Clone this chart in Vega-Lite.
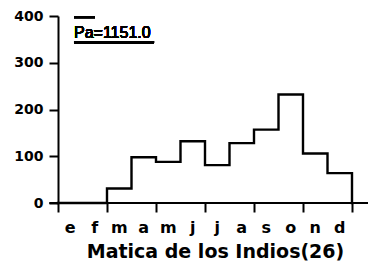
{
  "$schema": "https://vega.github.io/schema/vega-lite/v6.json",
  "width": 294,
  "height": 187,
  "autosize": "none",
  "padding": {"left": 58, "top": 16, "right": 17, "bottom": 59},
  "background": "white",
  "config": {"view": {"stroke": null}, "axis": {"grid": false, "domainColor": "black", "tickColor": "black", "labelColor": "black", "titleColor": "black"}},
  "data": {"values": [
    {"i": 0, "mes": "e", "pp": 0},
    {"i": 1, "mes": "f", "pp": 0},
    {"i": 2, "mes": "m", "pp": 31},
    {"i": 3, "mes": "a", "pp": 98},
    {"i": 4, "mes": "m", "pp": 88},
    {"i": 5, "mes": "j", "pp": 132},
    {"i": 6, "mes": "j", "pp": 81},
    {"i": 7, "mes": "a", "pp": 128},
    {"i": 8, "mes": "s", "pp": 157},
    {"i": 9, "mes": "o", "pp": 232},
    {"i": 10, "mes": "n", "pp": 106},
    {"i": 11, "mes": "d", "pp": 64},
    {"i": 12, "mes": "", "pp": 0}
  ]},
  "layer": [
    {
      "mark": {"type": "line", "interpolate": "step-after", "color": "black", "strokeWidth": 2.4, "strokeJoin": "miter", "strokeCap": "square"},
      "encoding": {
        "x": {"field": "i", "type": "quantitative",
          "scale": {"domain": [0, 12], "nice": false, "zero": false},
          "axis": {"values": [0,1,2,3,4,5,6,7,8,9,10,11,12], "domain": false, "tickSize": 9, "tickWidth": 2, "labels": false,
            "title": "Matica de los Indios(26)", "titleFont": "DejaVu Sans", "titleFontWeight": "bold", "titleFontSize": 19, "titlePadding": 29, "titleX": 157, "titleAlign": "center"}},
        "y": {"field": "pp", "type": "quantitative",
          "scale": {"domain": [0, 400], "nice": false},
          "axis": {"values": [0,100,200,300,400], "domainWidth": 2, "tickSize": 9, "tickWidth": 2,
            "labelFont": "DejaVu Sans", "labelFontWeight": "bold", "labelFontSize": 14, "labelPadding": 6, "title": null}}
      }
    },
    {
      "mark": {"type": "text", "align": "center", "baseline": "alphabetic", "font": "DejaVu Sans", "fontWeight": "bold", "fontSize": 16, "color": "black", "xOffset": 12.25, "dy": 30},
      "encoding": {"x": {"field": "i", "type": "quantitative"}, "y": {"datum": 0, "type": "quantitative"}, "text": {"field": "mes"}}
    },
    {
      "mark": {"type": "rule", "color": "black", "strokeWidth": 2},
      "encoding": {"x": {"datum": -0.33, "type": "quantitative"}, "x2": {"datum": 12.65}, "y": {"datum": 0, "type": "quantitative"}}
    },
    {
      "mark": {"type": "text", "align": "left", "baseline": "alphabetic", "font": "Liberation Sans", "fontSize": 16, "color": "black"},
      "encoding": {"x": {"datum": 0.653, "type": "quantitative"}, "y": {"datum": 354, "type": "quantitative"}, "text": {"value": "Pa=1151.0"}}
    },
    {
      "mark": {"type": "rule", "color": "black", "strokeWidth": 2.5},
      "encoding": {"x": {"datum": 0.653, "type": "quantitative"}, "x2": {"datum": 3.92}, "y": {"datum": 344, "type": "quantitative"}}
    },
    {
      "mark": {"type": "rule", "color": "black", "strokeWidth": 1.5},
      "encoding": {"x": {"datum": 0.653, "type": "quantitative"}, "x2": {"datum": 1.51}, "y": {"datum": 397, "type": "quantitative"}}
    }
  ]
}
